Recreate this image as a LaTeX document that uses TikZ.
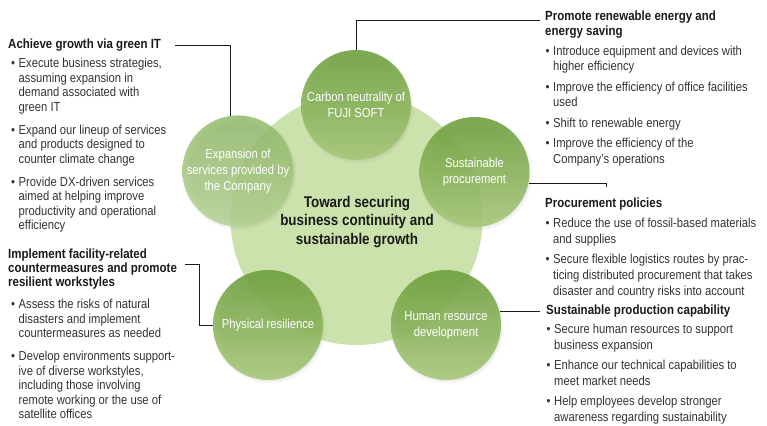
\documentclass[tikz,border=0pt]{standalone}
\usepackage{fontspec}
\setmainfont{Liberation Sans}[FakeStretch=0.865]
\usetikzlibrary{positioning,shadows}
\definecolor{disc}{HTML}{CCE2AC}
\definecolor{leafdark}{HTML}{6B9E3A}
\definecolor{leaflight}{HTML}{A8C97A}
\definecolor{paledark}{HTML}{8CB862}
\definecolor{palelight}{HTML}{B5D392}
\definecolor{ink}{HTML}{1A1A1A}
\definecolor{body}{HTML}{333333}
% bullet, and the indent of a wrapped line
\newcommand{\bul}{\makebox[7.5pt][l]{\textbullet}}
\newcommand{\ind}{\hspace*{7.5pt}}

\begin{document}
\begin{tikzpicture}[x=1pt,y=-1pt,
    every node/.style={inner sep=0pt},
    bigdisc/.style={circle, fill=disc, minimum size=252pt},
    leaf/.style={circle, minimum size=110pt, top color=leafdark, bottom color=leaflight,
                 fill opacity=0.88, text opacity=1, text=white, align=center,
                 font=\fontsize{13}{15.8}\selectfont,
                 circular drop shadow={shadow xshift=1pt, shadow yshift=-1.5pt,
                                       shadow scale=1.04, opacity=0.3}},
    paleleaf/.style={leaf, top color=paledark, bottom color=palelight, fill opacity=0.8},
    hub/.style={align=center, text=ink, font=\bfseries\fontsize{15.5}{18.3}\selectfont},
    headL/.style={anchor=base west, align=left, text=ink,
                  font=\bfseries\fontsize{13.3}{14}\selectfont},
    headR/.style={headL, font=\bfseries\fontsize{13.3}{15}\selectfont},
    listL/.style={anchor=north west, align=left, text=body,
                  font=\fontsize{13}{14.5}\selectfont},
    listR/.style={listL, font=\fontsize{13}{15.6}\selectfont},
    link/.style={draw=ink, line width=0.9pt}]
  \useasboundingbox (0,0) rectangle (767,425);

  % centre and the five themes
  \node[bigdisc] (core) at (356.5,219) {};
  \node[leaf]     (carbon)  at (356,105)   {Carbon neutrality of\\FUJI SOFT};
  \node[paleleaf] (expand)  at (238,171)   {Expansion of\\services provided by\\the Company};
  \node[leaf]     (procure) at (474.5,172) {Sustainable\\procurement};
  \node[leaf]     (phys)    at (268,325)   {Physical resilience};
  \node[leaf]     (human)   at (446,325)   {Human resource\\development};
  \node[hub]      (goal)    at (357,222)   {Toward securing\\business continuity and\\sustainable growth};

  % left column
  \node[headL] (hgreen) at (8,48.5) {Achieve growth via green IT};
  \node[listL] (lgreen) at ([shift={(3pt,-9.7pt)}]hgreen.base west)
    {\bul Execute business strategies,\\\ind assuming expansion in\\\ind demand associated with\\\ind green IT\\[8.5pt]
     \bul Expand our lineup of services\\\ind and products designed to\\\ind counter climate change\\[8.5pt]
     \bul Provide DX-driven services\\\ind aimed at helping improve\\\ind productivity and operational\\\ind efficiency};
  \node[headL] (hfacil) at (8,286.5) {Implement facility-related\\countermeasures and promote\\resilient workstyles};
  \node[listL] (lfacil) at ([shift={(3pt,-12.7pt)}]hfacil.base west)
    {\bul Assess the risks of natural\\\ind disasters and implement\\\ind countermeasures as needed\\[8.5pt]
     \bul Develop environments support-\\\ind ive of diverse workstyles,\\\ind including those involving\\\ind remote working or the use of\\\ind satellite offices};

  % right column
  \node[headR] (hrenew) at (545,35.7) {Promote renewable energy and\\energy saving};
  \node[listR] (lrenew) at ([shift={(0.5pt,-9.7pt)}]hrenew.base west)
    {\bul Introduce equipment and devices with\\\ind higher efficiency\\[4.8pt]
     \bul Improve the efficiency of office facilities\\\ind used\\[4.8pt]
     \bul Shift to renewable energy\\[4.8pt]
     \bul Improve the efficiency of the\\\ind Company’s operations};
  \node[headR] (hproc) at (545,207.5) {Procurement policies};
  \node[listR] (lproc) at ([shift={(0.5pt,-10.7pt)}]hproc.base west)
    {\bul Reduce the use of fossil-based materials\\\ind and supplies\\[4.8pt]
     \bul Secure flexible logistics routes by prac-\\\ind ticing distributed procurement that takes\\\ind disaster and country risks into account};
  \node[headR] (hprod) at (546,314.5) {Sustainable production capability};
  \node[listR] (lprod) at ([shift={(0.5pt,-9.7pt)}]hprod.base west)
    {\bul Secure human resources to support\\\ind business expansion\\[4.8pt]
     \bul Enhance our technical capabilities to\\\ind meet market needs\\[4.8pt]
     \bul Help employees develop stronger\\\ind awareness regarding sustainability};

  % leader lines
  \coordinate (tickP) at (606,187);
  \coordinate (prodend) at ([xshift=-6pt]hprod.west);
  \draw[link] ([xshift=14pt]hgreen.east) -| (expand.98);
  \draw[link] ([shift={(-5pt,15pt)}]hrenew.base west) -| (carbon.north);
  \draw[link] (procure.-12) -| (tickP);
  \draw[link] (human.14) -- (human.14 -| prodend);
  \draw[link] ([shift={(8pt,5pt)}]hfacil.east) -| ([xshift=-13pt]phys.west) -- (phys.west);
\end{tikzpicture}
\end{document}
